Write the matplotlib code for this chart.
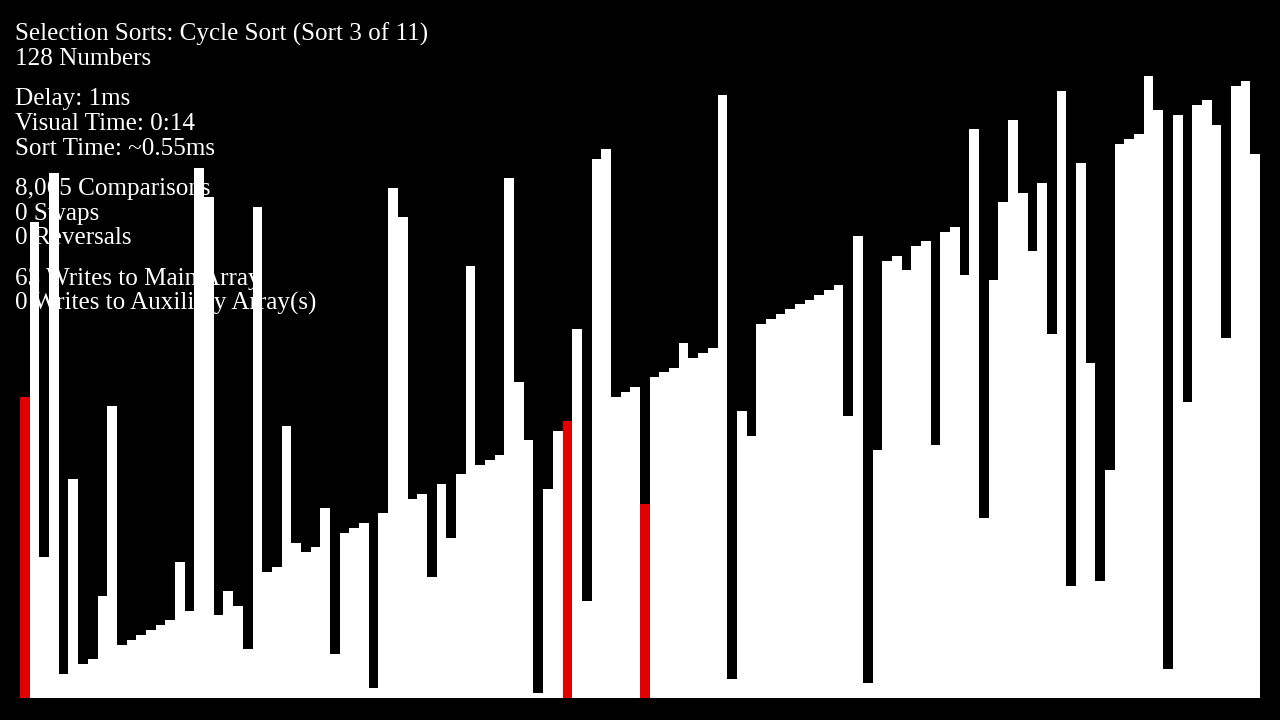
import numpy as np
import matplotlib
matplotlib.use('Agg')
import matplotlib.pyplot as plt

BG = '#000000'
BAR = '#ffffff'
MARK = '#e00000'

# array state, index 0..127
values = [62, 98, 29, 108, 5, 45, 7, 8, 21, 60, 11, 12, 13, 14, 15, 16,
          28, 18, 109, 103, 17, 22, 19, 10, 101, 26, 27, 56, 32, 30, 31, 39,
          9, 34, 35, 36, 2, 38, 105, 99, 41, 42, 25, 44, 33, 46, 89, 48,
          49, 50, 107, 65, 53, 1, 43, 55, 57, 76, 20, 111, 113, 62, 63, 64,
          40, 66, 67, 68, 73, 70, 71, 72, 124, 4, 59, 54, 77, 78, 79, 80,
          81, 82, 83, 84, 85, 58, 95, 3, 51, 90, 91, 88, 93, 94, 52, 96,
          97, 87, 117, 37, 86, 102, 119, 104, 92, 106, 75, 125, 23, 110, 69, 24,
          47, 114, 115, 116, 128, 121, 6, 120, 61, 122, 123, 118, 74, 126, 127, 112]
highlighted = [0, 56, 64]

info_lines = [
    ('Selection Sorts: Cycle Sort (Sort 3 of 11)', 41),
    ('128 Numbers', 65),
    ('Delay: 1ms', 105),
    ('Visual Time: 0:14', 129.5),
    ('Sort Time: ~0.55ms', 155),
    ('8,065 Comparisons', 195),
    ('0 Swaps', 220),
    ('0 Reversals', 244.5),
    ('63 Writes to Main Array', 285),
    ('0 Writes to Auxiliary Array(s)', 309.5),
]

W, H = 1280, 720
fig = plt.figure(figsize=(W / 100, H / 100), dpi=100, facecolor=BG)
ax = fig.add_axes([20 / W, 22 / H, 1240 / W, 676 / H])
ax.set_facecolor(BG)

n = len(values)
colors = [MARK if i in highlighted else BAR for i in range(n)]
ax.bar(np.arange(n), values, width=1.0, align='edge', color=colors,
       linewidth=0, zorder=2)
ax.set_xlim(0, n)
ax.set_ylim(0, 676 / (622 / 128))
ax.axis('off')

for text, y in info_lines:
    fig.text(15 / W, 1 - y / H, text, color='white', fontsize=18.1,
             family='Liberation Serif', ha='left', va='baseline', zorder=5)

fig.savefig('out.png', dpi=100, facecolor=BG)
